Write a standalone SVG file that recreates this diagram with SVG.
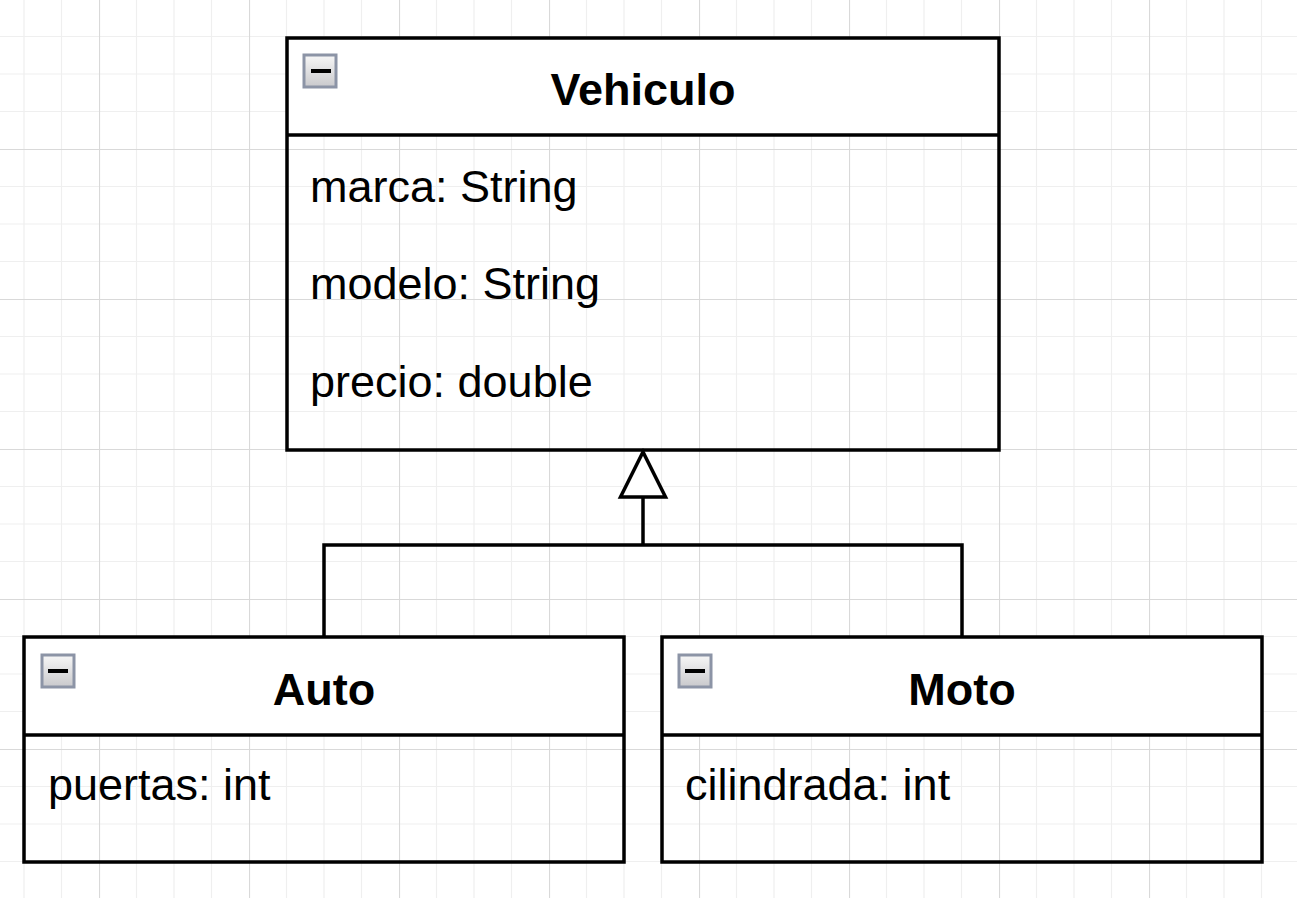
<svg xmlns="http://www.w3.org/2000/svg" width="1297" height="898" viewBox="0 0 1297 898">
  <style>
    .box { fill: none; stroke: #000; stroke-width: 3.5; }
    .head { fill: #fff; stroke: none; }
    .div { stroke: #000; stroke-width: 3.5; }
    .title { font-family: "Liberation Sans", Arial, sans-serif; font-size: 45px; font-weight: bold; fill: #000; text-anchor: middle; }
    .attr { font-family: "Liberation Sans", Arial, sans-serif; font-size: 45px; fill: #000; }
    .icon { fill: url(#iconGrad); stroke: #8c94a6; stroke-width: 3; }
    .bar { fill: #000; }
    .conn { fill: none; stroke: #000; stroke-width: 3.5; }
  </style>
  <defs>
    <pattern id="grid" patternUnits="userSpaceOnUse" x="99" y="149" width="150" height="150">
      <g stroke="#efefef" stroke-width="1.2">
        <line x1="37.5" y1="0" x2="37.5" y2="150"/>
        <line x1="75" y1="0" x2="75" y2="150"/>
        <line x1="112.5" y1="0" x2="112.5" y2="150"/>
        <line x1="0" y1="37.5" x2="150" y2="37.5"/>
        <line x1="0" y1="75" x2="150" y2="75"/>
        <line x1="0" y1="112.5" x2="150" y2="112.5"/>
      </g>
      <g stroke="#d9d9d9" stroke-width="1.2">
        <line x1="0.5" y1="0" x2="0.5" y2="150"/>
        <line x1="0" y1="0.5" x2="150" y2="0.5"/>
      </g>
    </pattern>
    <linearGradient id="iconGrad" x1="0" y1="0" x2="0" y2="1">
      <stop offset="0" stop-color="#f7f7f7"/>
      <stop offset="1" stop-color="#c9c9cc"/>
    </linearGradient>
    <marker id="inherit" markerUnits="userSpaceOnUse" viewBox="-3 -26 52 52" refX="0" refY="0" markerWidth="52" markerHeight="52" orient="auto" overflow="visible">
      <path d="M0,-22.5 L45,0 L0,22.5 Z" fill="#fff" stroke="#000" stroke-width="3.5" stroke-linejoin="miter"/>
    </marker>
  </defs>

  <rect x="0" y="0" width="1297" height="898" fill="#fff"/>
  <rect x="0" y="0" width="1297" height="898" fill="url(#grid)"/>

  <g id="connectors">
    <path class="conn" d="M324,637 L324,545 L962,545 L962,637"/>
    <path class="conn" d="M643,545 L643,497" marker-end="url(#inherit)"/>
  </g>

  <g id="vehiculo">
    <rect class="head" x="287" y="38" width="712" height="97"/>
    <rect class="box" x="287" y="38" width="712" height="412"/>
    <line class="div" x1="287" y1="135" x2="999" y2="135"/>
    <rect class="icon" x="304" y="55" width="32" height="32"/>
    <rect class="bar" x="311" y="69" width="20" height="4"/>
    <text class="title" x="643" y="105">Vehiculo</text>
    <text class="attr" x="310" y="202">marca: String</text>
    <text class="attr" x="310" y="299">modelo: String</text>
    <text class="attr" x="310" y="397">precio: double</text>
  </g>

  <g id="auto">
    <rect class="head" x="24" y="637" width="600" height="98"/>
    <rect class="box" x="24" y="637" width="600" height="225"/>
    <line class="div" x1="24" y1="735" x2="624" y2="735"/>
    <rect class="icon" x="42" y="655" width="32" height="32"/>
    <rect class="bar" x="48" y="669" width="20" height="4"/>
    <text class="title" x="324" y="705">Auto</text>
    <text class="attr" x="48" y="800">puertas: int</text>
  </g>

  <g id="moto">
    <rect class="head" x="662" y="637" width="600" height="98"/>
    <rect class="box" x="662" y="637" width="600" height="225"/>
    <line class="div" x1="662" y1="735" x2="1262" y2="735"/>
    <rect class="icon" x="679" y="655" width="32" height="32"/>
    <rect class="bar" x="685" y="669" width="20" height="4"/>
    <text class="title" x="962" y="705">Moto</text>
    <text class="attr" x="685" y="800">cilindrada: int</text>
  </g>
</svg>
